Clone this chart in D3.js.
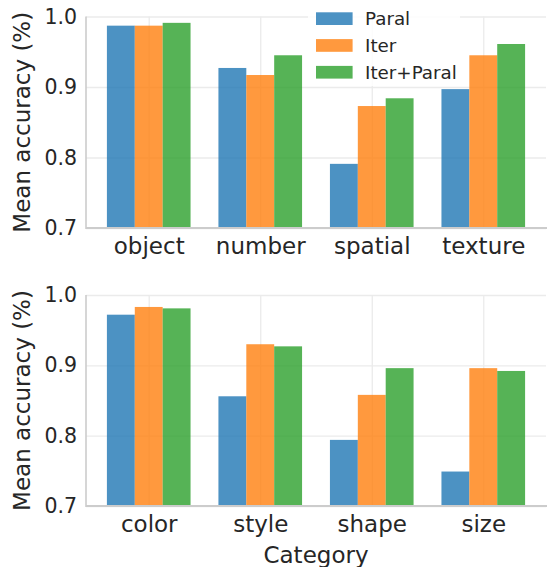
<!DOCTYPE html>
<html>
<head>
<meta charset="utf-8">
<script src="https://cdn.jsdelivr.net/npm/d3@7"></script>
<style>
  html, body { margin: 0; padding: 0; background: #ffffff; }
  svg { display: block; }
  text { font-family: "DejaVu Sans", sans-serif; fill: #262626; }
</style>
</head>
<body>
<svg id="chart" width="547" height="567"></svg>
<script>
// ---- data ----
const seriesNames = ["Paral", "Iter", "Iter+Paral"];
const seriesColors = ["#1f77b4", "#ff7f0e", "#2ca02c"];

const categoriesTop = ["object", "number", "spatial", "texture"];
const paralTop      = [0.987, 0.927, 0.791, 0.897];
const iterTop       = [0.987, 0.917, 0.873, 0.945];
const iterParalTop  = [0.991, 0.945, 0.884, 0.961];

const categoriesBottom = ["color", "style", "shape", "size"];
const paralBottom      = [0.972, 0.856, 0.794, 0.749];
const iterBottom       = [0.983, 0.930, 0.858, 0.896];
const iterParalBottom  = [0.981, 0.927, 0.896, 0.892];

const yTicks = [0.7, 0.8, 0.9, 1.0];
const yLabel = "Mean accuracy (%)";
const xLabel = "Category";

// ---- layout ----
const svg = d3.select("#chart");
const left = 86, right = 546;
const panels = [
  { top: 16.5, bottom: 228, cats: categoriesTop, series: [paralTop, iterTop, iterParalTop], legend: true },
  { top: 295, bottom: 506, cats: categoriesBottom, series: [paralBottom, iterBottom, iterParalBottom], legend: false, xlabel: true }
];
const barW = 0.25;
const offsets = [-0.25, 0, 0.25];

panels.forEach(p => {
  const x = d3.scaleLinear().domain([-0.5625, 3.5625]).range([left, right]);
  const y = d3.scaleLinear().domain([0.7, 1.0]).range([p.bottom, p.top]);
  const g = svg.append("g");

  // y grid + tick labels
  const yAxis = d3.axisLeft(y).tickValues(yTicks).tickFormat(d3.format(".1f"))
    .tickSizeInner(-(right - left)).tickSizeOuter(0).tickPadding(9);
  const yg = g.append("g").attr("transform", `translate(${left},0)`).call(yAxis);
  yg.select(".domain").remove();
  yg.selectAll("line").attr("stroke", "#ebebeb").attr("stroke-width", 1.3);
  yg.selectAll("text").style("font-size", "20.5px").attr("fill", "#262626")
    .style("font-family", "DejaVu Sans, sans-serif");

  // x grid + tick labels
  const xAxis = d3.axisBottom(x).tickValues(d3.range(p.cats.length)).tickFormat(i => p.cats[i])
    .tickSizeInner(-(p.bottom - p.top)).tickSizeOuter(0);
  const xg = g.append("g").attr("transform", `translate(0,${p.bottom})`).call(xAxis);
  xg.select(".domain").remove();
  xg.selectAll("line").attr("stroke", "#ebebeb").attr("stroke-width", 1.3);
  xg.selectAll("text").style("font-size", "23px").attr("fill", "#262626")
    .style("font-family", "DejaVu Sans, sans-serif")
    .attr("y", 25.5).attr("dy", 0);

  // bars
  p.series.forEach((vals, si) => {
    g.append("g").selectAll("rect").data(vals).join("rect")
      .attr("x", (d, i) => x(i + offsets[si] - barW / 2))
      .attr("width", x(barW) - x(0))
      .attr("y", d => y(d))
      .attr("height", d => y(0.7) - y(d))
      .attr("fill", seriesColors[si])
      .attr("fill-opacity", 0.8);
  });

  // spines
  g.append("line").attr("x1", left).attr("x2", left).attr("y1", p.top).attr("y2", p.bottom + 1)
    .attr("stroke", "#cccccc").attr("stroke-width", 1.6);
  g.append("line").attr("x1", left).attr("x2", 547).attr("y1", p.bottom).attr("y2", p.bottom)
    .attr("stroke", "#cccccc").attr("stroke-width", 1.8);

  // y label
  g.append("text")
    .attr("transform", `translate(30,${(p.top + p.bottom) / 2}) rotate(-90)`)
    .attr("text-anchor", "middle")
    .style("font-size", "23px")
    .text(yLabel);

  if (p.xlabel) {
    g.append("text").attr("x", (left + right) / 2).attr("y", 563)
      .attr("text-anchor", "middle").style("font-size", "23px").text(xLabel);
  }

  if (p.legend) {
    const lg = svg.append("g");
    lg.append("rect").attr("x", 308).attr("y", 4).attr("width", 152).attr("height", 82)
      .attr("fill", "#ffffff").attr("fill-opacity", 0.85);
    seriesNames.forEach((name, i) => {
      const rowY = 12.3 + i * 26.8;
      lg.append("rect").attr("x", 316).attr("y", rowY).attr("width", 36.6).attr("height", 12.7)
        .attr("fill", seriesColors[i]).attr("fill-opacity", 0.8);
      lg.append("text").attr("x", 365).attr("y", rowY + 12.7)
        .style("font-size", "18.3px").text(name);
    });
  }
});
</script>
</body>
</html>
